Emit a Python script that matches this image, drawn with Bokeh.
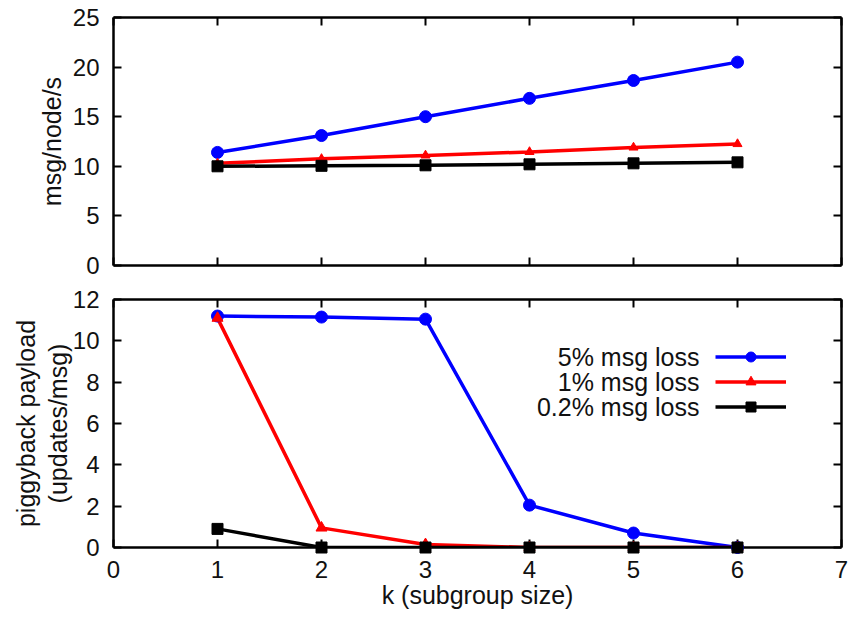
from bokeh.plotting import figure
from bokeh.models import Range1d, LinearAxis, FixedTicker, Legend, LegendItem, Label
from bokeh.core.properties import value
from bokeh.layouts import column
from bokeh.embed import file_html
from bokeh.resources import INLINE

# ---- data ----
k = [1, 2, 3, 4, 5, 6]
x_ticks = [0, 1, 2, 3, 4, 5, 6, 7]
top_y_ticks = [0, 5, 10, 15, 20, 25]
bottom_y_ticks = [0, 2, 4, 6, 8, 10, 12]

rate_5 = [11.4, 13.1, 15.0, 16.85, 18.65, 20.5]
rate_1 = [10.3, 10.75, 11.1, 11.45, 11.9, 12.25]
rate_02 = [10.0, 10.05, 10.1, 10.2, 10.3, 10.4]

payload_5 = [11.2, 11.15, 11.05, 2.05, 0.7, 0.0]
payload_1 = [11.1, 0.95, 0.15, 0.0, 0.0, 0.0]
payload_02 = [0.9, 0.0, 0.0, 0.0, 0.0, 0.0]

series_labels = ["5% msg loss", "1% msg loss", "0.2% msg loss"]
series_colors = ["#0000ff", "#ff0000", "#000000"]
series_markers = ["circle", "triangle", "square"]
marker_sizes = [12, 11, 11]

FONT = "Liberation Sans"
TXT = "#111111"
W = 855
FRAME_H = 248


def style_axis(ax, labels=True):
    ax.axis_line_width = 2.5
    ax.axis_line_color = "black"
    ax.major_tick_in = 8
    ax.major_tick_out = 0
    ax.major_tick_line_width = 2
    ax.minor_tick_line_color = None
    ax.major_label_text_font = FONT
    ax.major_label_text_color = TXT
    ax.axis_label_text_font = FONT
    ax.axis_label_text_font_style = "normal"
    ax.axis_label_text_color = TXT
    if labels:
        ax.major_label_text_font_size = "24px"
        ax.axis_label_text_font_size = "25px"
    else:
        ax.major_label_text_font_size = "1px"
        ax.major_label_standoff = 0


def make_fig(height, y_end, y_ticks, b_top, b_bottom, x_labels, y_label, y_label_standoff):
    p = figure(width=W, height=height, output_backend="svg", toolbar_location=None,
               x_range=Range1d(0, 7), y_range=Range1d(0, y_end),
               x_axis_location=None, y_axis_location=None,
               min_border_left=113, min_border_right=14,
               min_border_top=b_top, min_border_bottom=b_bottom)
    p.grid.visible = False
    p.outline_line_color = None
    p.background_fill_color = "white"
    p.border_fill_color = "white"

    xb = LinearAxis(ticker=FixedTicker(ticks=x_ticks))
    style_axis(xb, labels=x_labels)
    if x_labels:
        xb.axis_label = "k (subgroup size)"
        xb.major_label_standoff = 13
        xb.axis_label_standoff = 0
    else:
        xb.major_label_overrides = {t: "" for t in x_ticks}
    p.add_layout(xb, "below")

    xt = LinearAxis(ticker=FixedTicker(ticks=x_ticks))
    style_axis(xt, labels=False)
    xt.major_label_overrides = {t: "" for t in x_ticks}
    p.add_layout(xt, "above")

    yl = LinearAxis(ticker=FixedTicker(ticks=y_ticks), axis_label=y_label)
    style_axis(yl)
    yl.major_label_standoff = 14
    yl.axis_label_standoff = y_label_standoff
    yl.axis_label_text_line_height = 1.12
    p.add_layout(yl, "left")

    yr = LinearAxis(ticker=FixedTicker(ticks=y_ticks))
    style_axis(yr, labels=False)
    yr.major_label_overrides = {t: "" for t in y_ticks}
    p.add_layout(yr, "right")
    return p


top = make_fig(282, 25, top_y_ticks, 17, 282 - 17 - FRAME_H, False, "msg/node/s", 4)
bottom = make_fig(335, 12, bottom_y_ticks, 17, 335 - 17 - FRAME_H, True,
                  "piggyback payload\n(updates/msg)", -2)

for ys, c, m, s in zip([rate_5, rate_1, rate_02], series_colors, series_markers, marker_sizes):
    top.line(k, ys, line_color=c, line_width=3.5)
    top.scatter(k, ys, marker=m, size=s - (2 if m == "triangle" else 0),
                fill_color=c, line_color=c, level="overlay")

items = []
for ys, c, m, s in zip([payload_5, payload_1, payload_02], series_colors,
                       series_markers, marker_sizes):
    ln = bottom.line(k, ys, line_color=c, line_width=3.5)
    sc = bottom.scatter(k, ys, marker=m, size=s, fill_color=c, line_color=c,
                        level="overlay")
    items.append(LegendItem(label=value(""), renderers=[ln, sc]))

# legend samples (glyphs) on the right, label texts right-aligned to their left
ROW_H = 25
legend = Legend(items=items, location=(602, 128), glyph_width=71, glyph_height=ROW_H,
                label_height=ROW_H, label_width=0, spacing=0, padding=0, margin=0,
                label_standoff=0, border_line_color=None, background_fill_alpha=0)
bottom.add_layout(legend)

px_x = 7.0 / 728.0
px_y = 12.0 / FRAME_H
text_right = (602 - 16) * px_x
row0_from_bottom = 128 + 2.5 * ROW_H
for i, lab in enumerate(series_labels):
    bottom.add_layout(Label(x=text_right, y=(row0_from_bottom - i * ROW_H) * px_y,
                            text=lab, text_align="right", text_baseline="middle",
                            text_font=FONT, text_font_size="25px",
                            text_color=TXT))

layout = column(top, bottom, spacing=0)
open("out.html", "w").write(file_html(layout, INLINE))
